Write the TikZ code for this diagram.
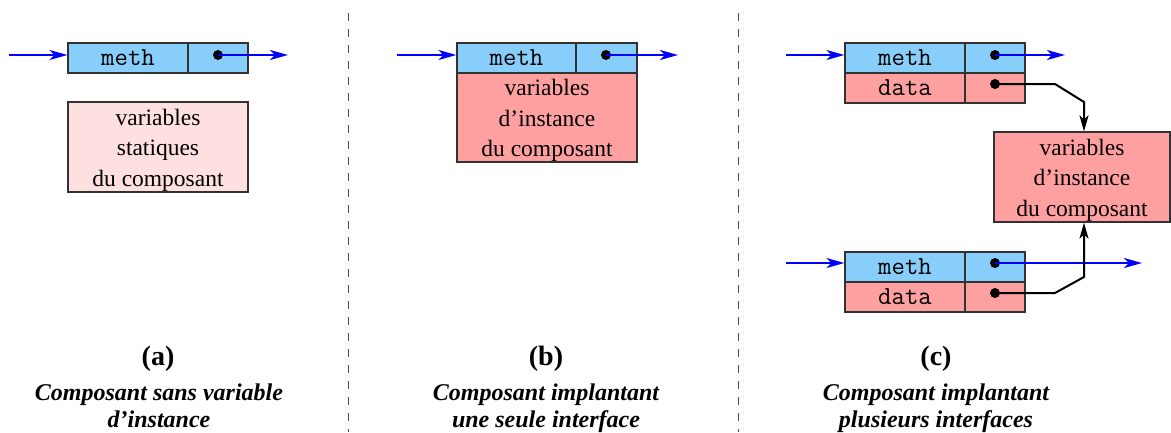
\documentclass[tikz,border=0pt]{standalone}
\usepackage{fontspec}
\setmainfont{Liberation Serif}
\usetikzlibrary{arrows.meta,calc}
\definecolor{cellblue}{RGB}{135,206,250}
\definecolor{cellpink}{RGB}{255,160,160}
\definecolor{lightpink}{RGB}{255,224,224}
\definecolor{edge}{RGB}{50,50,50}
\begin{document}
\begin{tikzpicture}[x=1pt,y=-1pt,
  cell/.style={draw=edge, line width=1.2pt, inner sep=0pt, minimum height=30pt, font=\ttfamily\fontsize{26}{28}\selectfont},
  bluecell/.style={cell, fill=cellblue},
  pinkcell/.style={cell, fill=cellpink},
  bigbox/.style={draw=edge, line width=1.2pt, inner sep=0pt, minimum width=180pt, minimum height=90pt},
  boxtext/.style={inner sep=0pt, align=center, yshift=-3pt, font=\fontsize{23.5}{30.5}\selectfont},
  dotmark/.style={circle, fill=black, inner sep=0pt, minimum size=10pt},
  bluearrow/.style={draw=blue, line width=2pt, -{Stealth[length=18pt,width=10pt,inset=5pt]}},
  blackarrow/.style={draw=black, line width=2pt, -{Stealth[length=16pt,width=9pt,inset=4pt]}},
  sep/.style={draw=black!70, line width=1pt, dash pattern=on 8pt off 8pt},
  lbl/.style={anchor=base, font=\bfseries\fontsize{28}{30}\selectfont},
  capt/.style={anchor=base, font=\bfseries\itshape\fontsize{24}{26}\selectfont}
]
\useasboundingbox (0,0) rectangle (1171,432);

% separators
\coordinate (s1t) at (348,13); \coordinate (s1b) at (348,432);
\coordinate (s2t) at (738,13); \coordinate (s2b) at (738,432);
\draw[sep] (s1t) -- (s1b);
\draw[sep] (s2t) -- (s2b);

% ---------- (a) ----------
\node[bluecell, minimum width=120pt] (am) at (128,58) {meth};
\node[bluecell, minimum width=60pt] (ap) at (218,58) {};
\node[bigbox, fill=lightpink] (astat) at (158,147) {};
\node[boxtext] (astatt) at (astat.center) {variables\\statiques\\du composant};
\node[dotmark] (ad) at (218,55) {};
\coordinate (ain) at (9,55);
\coordinate (aout) at (288,55);
\draw[bluearrow] (ain) -- (ain -| am.west);
\draw[bluearrow] (ad.center) -- (aout);

% ---------- (b) ----------
\node[bluecell, minimum width=119pt] (bm) at (516.5,58) {meth};
\node[bluecell, minimum width=61pt] (bp) at (606.5,58) {};
\node[bigbox, fill=cellpink, minimum height=89pt] (binst) at (547,117.5) {};
\node[boxtext] (binstt) at (binst.center) {variables\\d’instance\\du composant};
\node[dotmark] (bd) at (606,55) {};
\coordinate (bin) at (397,55);
\coordinate (bout) at (678,55);
\draw[bluearrow] (bin) -- (bin -| bm.west);
\draw[bluearrow] (bd.center) -- (bout);

% ---------- (c) ----------
\node[bluecell, minimum width=120pt] (c1m) at (905,58) {meth};
\node[bluecell, minimum width=60pt] (c1p) at (995,58) {};
\node[pinkcell, minimum width=120pt] (c1dl) at (905,88) {data};
\node[pinkcell, minimum width=60pt] (c1dp) at (995,88) {};
\node[dotmark] (c1md) at (995,55) {};
\node[dotmark] (c1dd) at (995,84) {};

\node[bluecell, minimum width=120pt] (c2m) at (905,267) {meth};
\node[bluecell, minimum width=60pt] (c2p) at (995,267) {};
\node[pinkcell, minimum width=120pt] (c2dl) at (905,297) {data};
\node[pinkcell, minimum width=60pt] (c2dp) at (995,297) {};
\node[dotmark] (c2md) at (995,263) {};
\node[dotmark] (c2dd) at (995,293) {};

\node[bigbox, fill=cellpink, minimum width=176pt] (cinst) at (1082,177) {};
\node[boxtext] (cinstt) at (cinst.center) {variables\\d’instance\\du composant};

\coordinate (c1in) at (786,55);
\coordinate (c1out) at (1065,55);
\coordinate (c2in) at (786,263);
\coordinate (c2out) at (1142,263);
\draw[bluearrow] (c1in) -- (c1in -| c1m.west);
\draw[bluearrow] (c1md.center) -- (c1out);
\draw[bluearrow] (c2in) -- (c2in -| c2m.west);
\draw[bluearrow] (c2md.center) -- (c2out);

\coordinate (k1) at (1055,84);
\coordinate (k2) at (1084,102);
\coordinate (k3) at (1055,293);
\coordinate (k4) at (1084,277);
\draw[blackarrow, line join=miter] (c1dd.center) -- (k1) -- (k2) -- (k2 |- cinst.north);
\draw[blackarrow, line join=miter] (c2dd.center) -- (k3) -- (k4) -- (k4 |- cinst.south);

% ---------- captions ----------
\node[lbl] (la) at (158,365) {(a)};
\node[capt] (ta1) at (159,400) {Composant sans variable};
\node[capt] (ta2) at (159,427) {d’instance};
\node[lbl] (lb) at (546,365) {(b)};
\node[capt] (tb1) at (546,400) {Composant implantant};
\node[capt] (tb2) at (546,427) {une seule interface};
\node[lbl] (lc) at (936,365) {(c)};
\node[capt] (tc1) at (936,400) {Composant implantant};
\node[capt] (tc2) at (936,427) {plusieurs interfaces};
\end{tikzpicture}
\end{document}
